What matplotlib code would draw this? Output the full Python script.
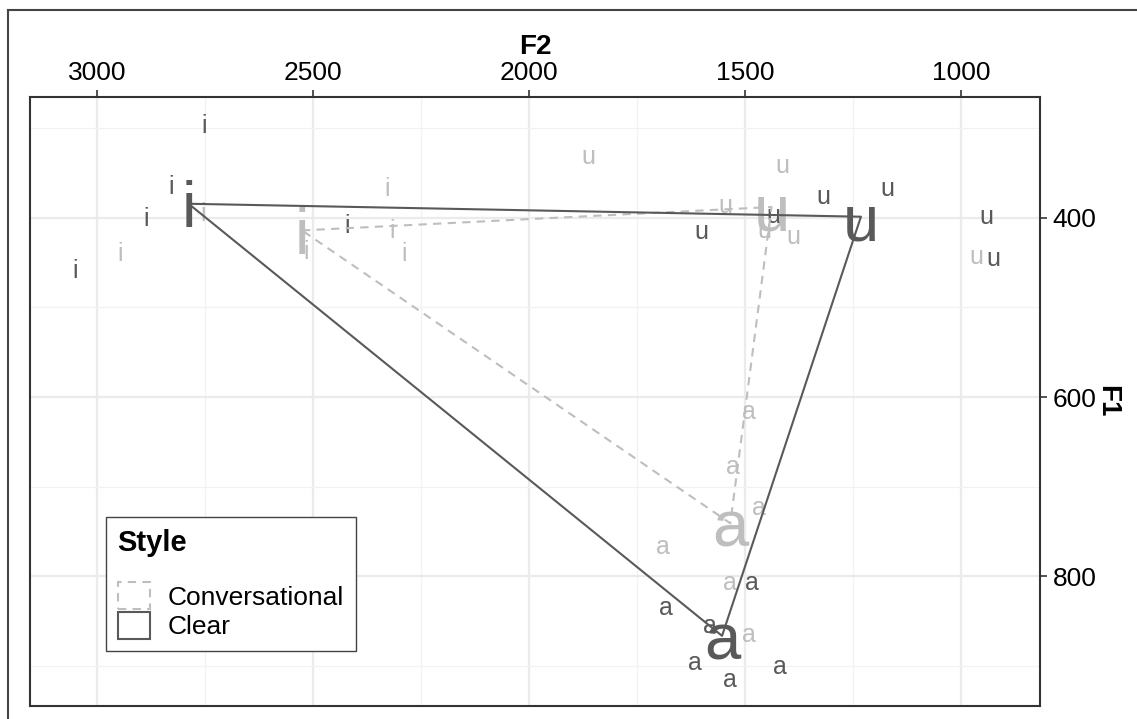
import pandas as pd
import matplotlib.pyplot as plt
import matplotlib.transforms as mtransforms
from matplotlib.patches import Patch, Rectangle
from matplotlib.ticker import MultipleLocator

plt.rcParams['font.family'] = ['Liberation Sans', 'DejaVu Sans']

# vowel tokens (F2, F1 in Hz), per style
clear_i_f2 = [2752, 2829, 2887, 3051, 2421]
clear_i_f1 = [295, 363, 399, 457, 407]
conv_i_f2 = [2947, 2755, 2329, 2317, 2289, 2516]
conv_i_f1 = [438, 394, 365, 413, 438, 436]

clear_u_f2 = [1171, 1319, 1600, 1435, 940, 924]
clear_u_f1 = [366, 375, 414, 396, 397, 444]
conv_u_f2 = [1863, 1414, 1456, 1387, 965, 1546]
conv_u_f1 = [330, 340, 413, 419, 441, 384]

clear_a_f2 = [1484, 1683, 1581, 1616, 1535, 1419]
clear_a_f1 = [805, 833, 854, 895, 914, 899]
conv_a_f2 = [1535, 1491, 1491, 1528, 1468, 1690]
conv_a_f1 = [805, 864, 614, 676, 722, 765]

styles = ['Conversational', 'Clear']
vowel_order = ['i', 'u', 'a']
colors = {'Conversational': '#BEBEBE', 'Clear': '#595959'}
linestyles = {'Conversational': (0, (4, 3)), 'Clear': '-'}

rows = []
groups = [
    ('i', 'Clear', clear_i_f2, clear_i_f1), ('i', 'Conversational', conv_i_f2, conv_i_f1),
    ('u', 'Clear', clear_u_f2, clear_u_f1), ('u', 'Conversational', conv_u_f2, conv_u_f1),
    ('a', 'Clear', clear_a_f2, clear_a_f1), ('a', 'Conversational', conv_a_f2, conv_a_f1),
]
for v, s, f2s, f1s in groups:
    for f2, f1 in zip(f2s, f1s):
        rows.append({'vowel': v, 'style': s, 'F2': f2, 'F1': f1})
df = pd.DataFrame(rows)
means = df.groupby(['style', 'vowel'])[['F2', 'F1']].mean()

fig = plt.figure(figsize=(11.37, 7.19), dpi=100)
ax = fig.add_axes([30 / 1137, 1 - 706 / 719, 1010 / 1137, 609 / 719])

# outer frame of the original figure
fig.add_artist(Rectangle((8 / 1137, -0.5), 2, 0.5 + 1 - 10 / 719, transform=fig.transFigure,
                         fill=False, ec='#444444', lw=1.5))

small, big = 18, 47

def place(x, y, s, size, color, z):
    # ggplot-style vertical centering (middle of cap height)
    tr = mtransforms.offset_copy(ax.transData, fig=fig, y=-0.358 * size, units='points')
    ax.text(x, y, s, fontsize=size, color=color, ha='center', va='baseline',
            transform=tr, zorder=z)

for _, r in df.iterrows():
    place(r['F2'], r['F1'], r['vowel'], small, colors[r['style']], 4)

for s in styles:
    m = means.loc[s].loc[vowel_order]
    for v in vowel_order:
        place(m.loc[v, 'F2'], m.loc[v, 'F1'], v, big, colors[s], 3)
    xs = list(m['F2']) + [m['F2'].iloc[0]]
    ys = list(m['F1']) + [m['F1'].iloc[0]]
    ax.plot(xs, ys, color=colors[s], linestyle=linestyles[s], lw=1.5, zorder=5)

ax.set_xlim(3155, 817)
ax.set_ylim(945, 265)
ax.xaxis.set_major_locator(MultipleLocator(500))
ax.xaxis.set_minor_locator(MultipleLocator(250))
ax.yaxis.set_major_locator(MultipleLocator(200))
ax.yaxis.set_minor_locator(MultipleLocator(100))
ax.xaxis.tick_top()
ax.xaxis.set_label_position('top')
ax.yaxis.tick_right()
ax.yaxis.set_label_position('right')
ax.grid(which='major', color='#EBEBEB', lw=1.6, zorder=0)
ax.grid(which='minor', color='#F2F2F2', lw=0.9, zorder=0)
ax.set_axisbelow(True)
ax.tick_params(which='major', length=5, width=1.2, color='#333333', labelsize=19,
               labelcolor='black', pad=4)
ax.tick_params(which='minor', length=0)
for sp in ax.spines.values():
    sp.set_color('#333333')
    sp.set_linewidth(1.5)

ax.set_xlabel('F2', fontsize=20, fontweight='bold', labelpad=5)
ax.set_ylabel('F1', fontsize=20, fontweight='bold', rotation=270, labelpad=-1.5, va='bottom')

handles = [Patch(facecolor='none', edgecolor=colors[s], linestyle=linestyles[s], lw=1.5)
           for s in styles]
leg = ax.legend(handles, styles, title='Style', loc='lower left',
                bbox_to_anchor=(0.075, 0.09), borderaxespad=0, fontsize=19,
                title_fontproperties={'weight': 'bold', 'size': 21}, alignment='left',
                handlelength=1.21, handleheight=1.21, labelspacing=0.08,
                handletextpad=0.7, borderpad=0.45, fancybox=False, framealpha=1)
leg._legend_box.sep = 18
leg.get_frame().set_edgecolor('#444444')
leg.get_frame().set_linewidth(1.0)

fig.savefig('out.png', dpi=100)
